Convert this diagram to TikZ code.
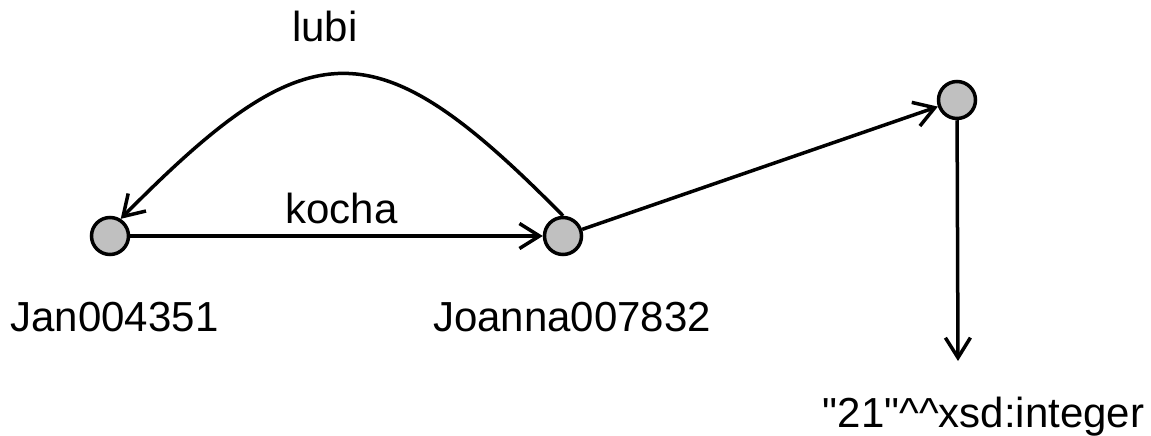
\documentclass[tikz,border=0pt]{standalone}
\usepackage{fontspec}
\setmainfont{Liberation Sans}
\usetikzlibrary{arrows.meta}
\newcommand{\strq}{\XeTeXglyph\XeTeXcharglyph"22\relax}
\begin{document}
\begin{tikzpicture}[x=1pt,y=-1pt,
  vert/.style={circle,draw=black,fill=nodegray,line width=3.5pt,minimum size=37pt,inner sep=0pt},
  lbl/.style={anchor=base,inner sep=0pt,font=\fontsize{42}{50}\selectfont},
  conn/.style={line width=3.5pt,-{Straight Barb[length=20pt,width=25pt,line width=3.5pt]}}]
\definecolor{nodegray}{HTML}{C0C0C0}
\useasboundingbox (0,0) rectangle (1151,436);
\node[vert] (A) at (110,236) {};
\node[vert] (B) at (563,236) {};
\node[vert] (C) at (957,100) {};
\coordinate (E) at (958,361);
\node[lbl] (tA) at (114.5,331) {Jan004351};
\node[lbl] (tB) at (572,331) {Joanna007832};
\node[lbl] (tE) at (983.5,427) {\strq 21\strq\textasciicircum\textasciicircum xsd:integer};
\node[lbl] (lk) at (341.5,223) {kocha};
\node[lbl] (ll) at (325,42) {lubi};
\draw[conn] (A) -- (B);
\draw[conn] (B.north) .. controls (376,26) and (311,26) .. (A.58);
\draw[conn] (B) -- (C);
\draw[conn] (C) -- (E);
\end{tikzpicture}
\end{document}
